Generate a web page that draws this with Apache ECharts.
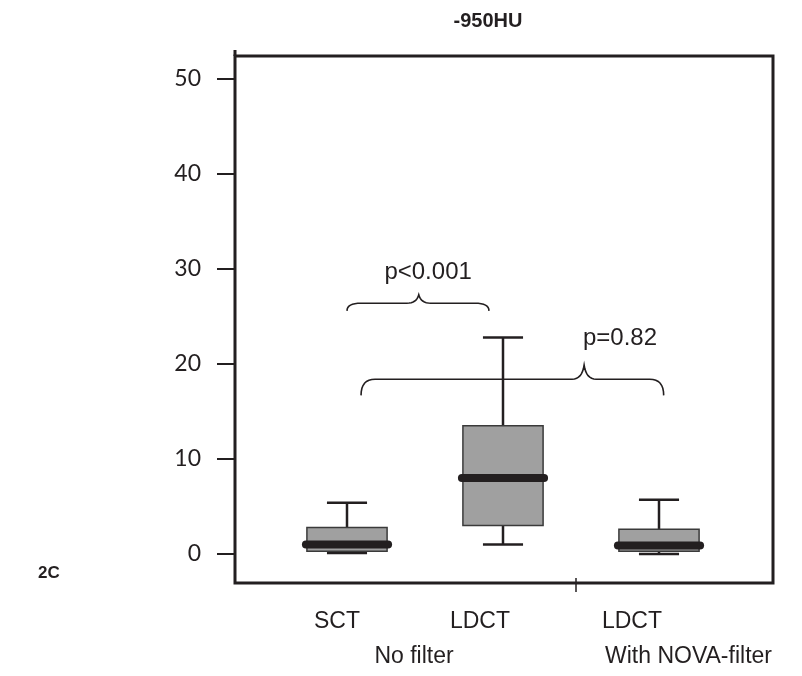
<!DOCTYPE html>
<html>
<head>
<meta charset="utf-8">
<script src="https://cdn.jsdelivr.net/npm/echarts@6/dist/echarts.min.js"></script>
<style>
  html, body { margin: 0; padding: 0; background: #fff; }
  #chart { width: 802px; height: 676px; }
</style>
</head>
<body>
<div id="chart"></div>
<script>
  // -950HU : one box per scan type
  var categories = ['SCT', 'LDCT', 'LDCT'];
  var whiskerLow = [0.1, 1.0, 0.0];
  var q1 = [0.3, 3.0, 0.3];
  var median = [1.0, 8.0, 0.9];
  var q3 = [2.8, 13.5, 2.6];
  var whiskerHigh = [5.4, 22.8, 5.7];
  var yTicks = [0, 10, 20, 30, 40, 50];
  var groups = ['No filter', 'With NOVA-filter'];

  // curly brackets with p values (x = category index, y = axis units)
  var braceFrom = [0.0, 0.09];
  var braceTo = [0.91, 2.03];
  var braceTip = [0.46, 1.52];
  var braceEndY = [25.6, 16.7];
  var braceLineY = [26.4, 18.4];
  var braceTipY = [27.3, 19.9];
  var pText = ['p<0.001', 'p=0.82'];
  var pTextX = [0.52, 1.75];
  var pTextY = [29.6, 22.7];

  var ink = '#231f20';
  var myChart = echarts.init(document.getElementById('chart'));

  var boxData = categories.map(function (c, i) {
    return [i, whiskerLow[i], q1[i], median[i], q3[i], whiskerHigh[i]];
  });
  var braceData = pText.map(function (t, i) {
    return [braceFrom[i], braceTo[i], braceTip[i], braceEndY[i], braceLineY[i], braceTipY[i], pTextX[i], pTextY[i], i];
  });

  function quad(p0, c, p1, out) {
    for (var k = 1; k <= 8; k++) {
      var t = k / 8, u = 1 - t;
      out.push([u * u * p0[0] + 2 * u * t * c[0] + t * t * p1[0],
                u * u * p0[1] + 2 * u * t * c[1] + t * t * p1[1]]);
    }
  }

  function renderBox(params, api) {
    var i = api.value(0);
    var lo = api.coord([i, api.value(1)]);
    var b1 = api.coord([i, api.value(2)]);
    var md = api.coord([i, api.value(3)]);
    var b3 = api.coord([i, api.value(4)]);
    var hi = api.coord([i, api.value(5)]);
    var half = api.size([1, 0])[0] * 0.257;
    var cap = half / 2;
    var x = lo[0];
    var line = { stroke: ink, lineWidth: 2.5 };
    return {
      type: 'group',
      children: [
        { type: 'line', shape: { x1: x, y1: hi[1], x2: x, y2: b3[1] }, style: line },
        { type: 'line', shape: { x1: x, y1: b1[1], x2: x, y2: lo[1] }, style: line },
        { type: 'line', shape: { x1: x - cap, y1: hi[1], x2: x + cap, y2: hi[1] }, style: line },
        { type: 'line', shape: { x1: x - cap, y1: lo[1], x2: x + cap, y2: lo[1] }, style: line },
        { type: 'rect', shape: { x: x - half, y: b3[1], width: half * 2, height: b1[1] - b3[1] },
          style: { fill: '#a0a0a0', stroke: '#3a3a3a', lineWidth: 1.5 } },
        { type: 'line', shape: { x1: x - half - 1, y1: md[1], x2: x + half + 1, y2: md[1] },
          style: { stroke: ink, lineWidth: 8, lineCap: 'round' } }
      ]
    };
  }

  function renderBrace(params, api) {
    var a = api.coord([api.value(0), api.value(4)]);
    var b = api.coord([api.value(1), api.value(4)]);
    var tip = api.coord([api.value(2), api.value(5)]);
    var endY = api.coord([api.value(0), api.value(3)])[1];
    var lineY = a[1];
    var tipX = tip[0];
    var txt = api.coord([api.value(6), api.value(7)]);
    var r = 14, t = 12;
    var pts = [[a[0], endY]];
    quad([a[0], endY], [a[0], lineY], [a[0] + r, lineY], pts);
    pts.push([tipX - t, lineY]);
    quad([tipX - t, lineY], [tipX - 2, lineY], [tipX, tip[1]], pts);
    quad([tipX, tip[1]], [tipX + 2, lineY], [tipX + t, lineY], pts);
    pts.push([b[0] - r, lineY]);
    quad([b[0] - r, lineY], [b[0], lineY], [b[0], endY], pts);
    return {
      type: 'group',
      children: [
        { type: 'polyline', shape: { points: pts }, style: { stroke: ink, lineWidth: 1.6, fill: null } },
        { type: 'text', x: txt[0], y: txt[1],
          style: { text: pText[api.value(8)], fill: ink, fontSize: 24, fontFamily: 'Liberation Sans',
                   align: 'center', verticalAlign: 'middle' } }
      ]
    };
  }

  myChart.setOption({
    animation: false,
    grid: { left: 269, right: 65, top: 79, bottom: 122 },
    xAxis: [{
      type: 'category',
      data: categories,
      boundaryGap: true,
      axisLine: { show: false },
      axisTick: { show: false },
      axisLabel: {
        margin: 56, color: ink,
        formatter: function (v, i) { return '{c' + i + '|' + v + '}'; },
        rich: {
          c0: { fontSize: 23, fontFamily: 'Liberation Sans', color: ink, padding: [0, 20, 0, 0] },
          c1: { fontSize: 23, fontFamily: 'Liberation Sans', color: ink, padding: [0, 46, 0, 0] },
          c2: { fontSize: 23, fontFamily: 'Liberation Sans', color: ink, padding: [0, 54, 0, 0] }
        }
      }
    }, {
      type: 'value', min: -0.5, max: 2.5, show: false
    }],
    yAxis: {
      type: 'value',
      min: yTicks[0],
      max: yTicks[yTicks.length - 1],
      interval: yTicks[1] - yTicks[0],
      offset: 34,
      axisLine: { show: false, onZero: false },
      axisTick: { show: true, inside: false, length: 18, lineStyle: { color: ink, width: 2 } },
      axisLabel: { margin: 34, fontSize: 23, color: ink, fontFamily: 'Lato', padding: [8, 0, 0, 0] },
      splitLine: { show: false }
    },
    series: [{
      type: 'custom',
      xAxisIndex: 1,
      renderItem: renderBox,
      encode: { x: 0, y: [1, 2, 3, 4, 5] },
      data: boxData
    }, {
      type: 'custom',
      xAxisIndex: 1,
      renderItem: renderBrace,
      encode: { x: [0, 1], y: [3, 5] },
      data: braceData
    }],
    graphic: [
      { type: 'rect', shape: { x: 235, y: 56, width: 538, height: 527 },
        style: { stroke: ink, lineWidth: 3, fill: null } },
      { type: 'line', shape: { x1: 235, y1: 50, x2: 235, y2: 56 }, style: { stroke: ink, lineWidth: 3 } },
      { type: 'line', shape: { x1: 576, y1: 578, x2: 576, y2: 592 }, style: { stroke: ink, lineWidth: 1.5 } },
      { type: 'text', x: 488, y: 21,
        style: { text: '-950HU', fill: ink, fontSize: 20, fontWeight: 'bold', fontFamily: 'Liberation Sans',
                 align: 'center', verticalAlign: 'middle' } },
      { type: 'text', x: 38, y: 573,
        style: { text: '2C', fill: ink, fontSize: 17, fontWeight: 'bold', fontFamily: 'Liberation Sans',
                 align: 'left', verticalAlign: 'middle' } },
      { type: 'text', x: 414, y: 657,
        style: { text: groups[0], fill: ink, fontSize: 23, fontFamily: 'Liberation Sans',
                 align: 'center', verticalAlign: 'middle' } },
      { type: 'text', x: 605, y: 657,
        style: { text: groups[1], fill: ink, fontSize: 23, fontFamily: 'Liberation Sans',
                 align: 'left', verticalAlign: 'middle' } }
    ]
  });
</script>
</body>
</html>
